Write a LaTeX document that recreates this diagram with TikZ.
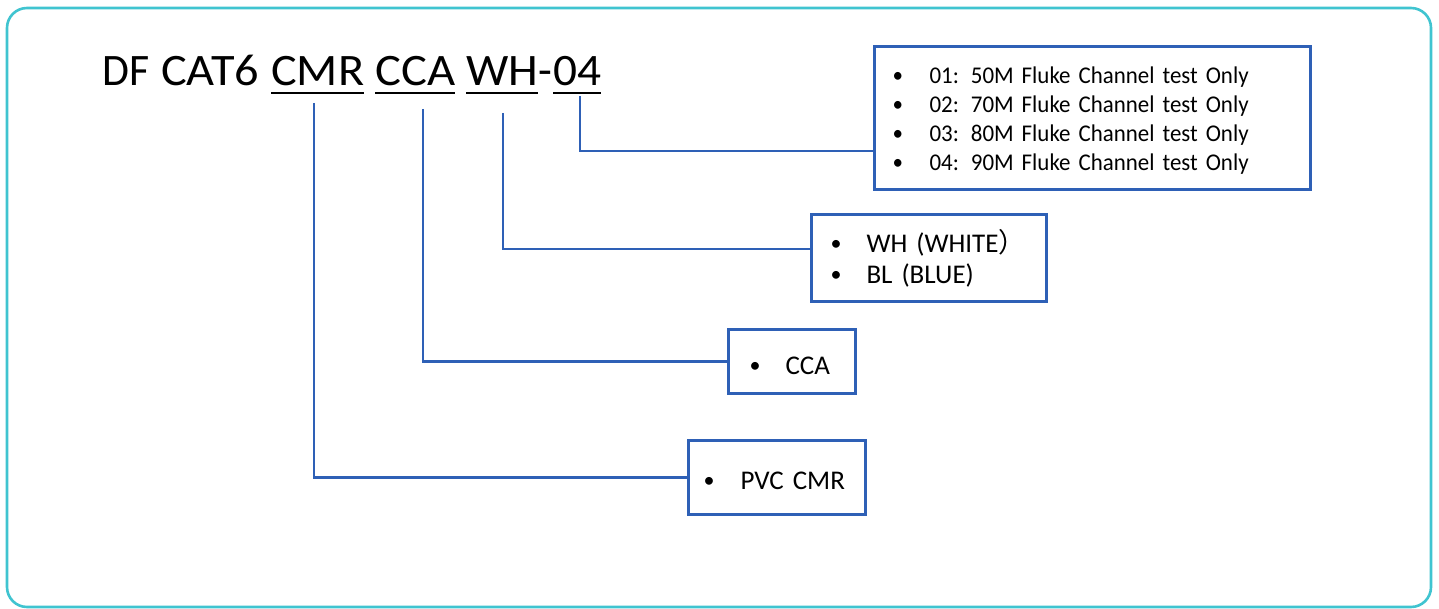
\documentclass[tikz,border=0pt]{standalone}
\usepackage{fontspec}
\usepackage{graphicx}
\setmainfont{Carlito}[WordSpace=0.8]
\newfontfamily\narrowfont{Carlito}[WordSpace=0.7,FakeStretch=0.955]
\newfontfamily\cjk{Noto Sans CJK SC}
\usetikzlibrary{calc}
\definecolor{frameteal}{RGB}{64,196,208}
\definecolor{boxblue}{RGB}{46,96,182}
\newcommand\myul[1]{\setbox0\hbox{#1}\rlap{\rule[-8.2pt]{\wd0}{2.4pt}}\box0\relax}
\newcommand\hfit[2]{\resizebox{#1}{\height}{#2}}
\newcommand\bul[1]{\raisebox{#1}{\fontsize{22}{22}\selectfont •}}
% #1 left gap, #2 bullet column, #3 bullet raise, #4 line shift, #5 text
\newcommand\itm[5]{\raisebox{-#4}[\height][\depth]{\hspace*{#1}\makebox[#2][l]{\bul{#3}}#5}}
\tikzset{
  infobox/.style={draw=boxblue, line width=3pt, anchor=north west, align=left, inner sep=0pt},
  titleword/.style={anchor=base west, inner sep=0pt, font=\fontsize{45}{54}\selectfont},
  link/.style={draw=boxblue, line width=2.6pt},
}
\begin{document}
\begin{tikzpicture}[x=1pt,y=-1pt]
\useasboundingbox (0,0) rectangle (1439,609);
\draw[frameteal, line width=2.6pt, rounded corners=20pt] (7,8) rectangle (1431,607);
% title
\node[titleword] (tdf) at (102,86) {\hfit{47pt}{DF}};
\node[titleword] (tcat) at (161,86) {\hfit{98pt}{CAT6}};
\node[titleword] (tcmr) at (271,86) {\myul{\hfit{93pt}{CMR}}};
\node[titleword] (tcca) at (375,86) {\myul{\hfit{80pt}{CCA}}};
\node[titleword] (twh) at (466,86) {\myul{\hfit{72pt}{WH}}};
\node[titleword] (tdash) at (538,86) {-};
\node[titleword] (tnum) at (553,86) {\myul{\hfit{48pt}{04}}};
% boxes
\node[infobox, minimum width=436pt, minimum height=143pt, text width=436pt,
  font=\narrowfont\fontsize{24}{29}\selectfont] (b1) at (873,45)
  {\itm{18pt}{37pt}{1pt}{3pt}{01: 50M Fluke Channel test Only}\\
   \itm{18pt}{37pt}{1pt}{3pt}{02: 70M Fluke Channel test Only}\\
   \itm{18pt}{37pt}{1pt}{3pt}{03: 80M Fluke Channel test Only}\\
   \itm{18pt}{37pt}{1pt}{3pt}{04: 90M Fluke Channel test Only}};
\node[infobox, minimum width=235pt, minimum height=87pt, text width=235pt,
  font=\fontsize{27}{31}\selectfont] (b2) at (810,213)
  {\itm{19pt}{36pt}{2pt}{0pt}{WH (WHITE{\cjk ）}}\\
   \itm{19pt}{36pt}{2pt}{0pt}{BL (BLUE)}};
\node[infobox, minimum width=127pt, minimum height=64pt, text width=127pt,
  font=\fontsize{27}{31}\selectfont] (b3) at (727,328)
  {\itm{21pt}{36pt}{2pt}{4pt}{CCA}};
\node[infobox, minimum width=177pt, minimum height=74pt, text width=177pt,
  font=\fontsize{27}{31}\selectfont] (b4) at (687,439)
  {\itm{15pt}{37pt}{2pt}{3pt}{PVC CMR}};
% connectors
\coordinate (cmr) at (314,103);
\coordinate (cca) at (423,109);
\coordinate (wh) at (503,113);
\coordinate (num) at (580,96);
\draw[link] (num) |- ($(b1.north west)!0.727!(b1.south west)$);
\draw[link] (wh) |- ($(b2.north west)!0.402!(b2.south west)$);
\draw[link] (cca) |- (b3.west);
\draw[link] (cmr) |- (b4.west);
\end{tikzpicture}
\end{document}
